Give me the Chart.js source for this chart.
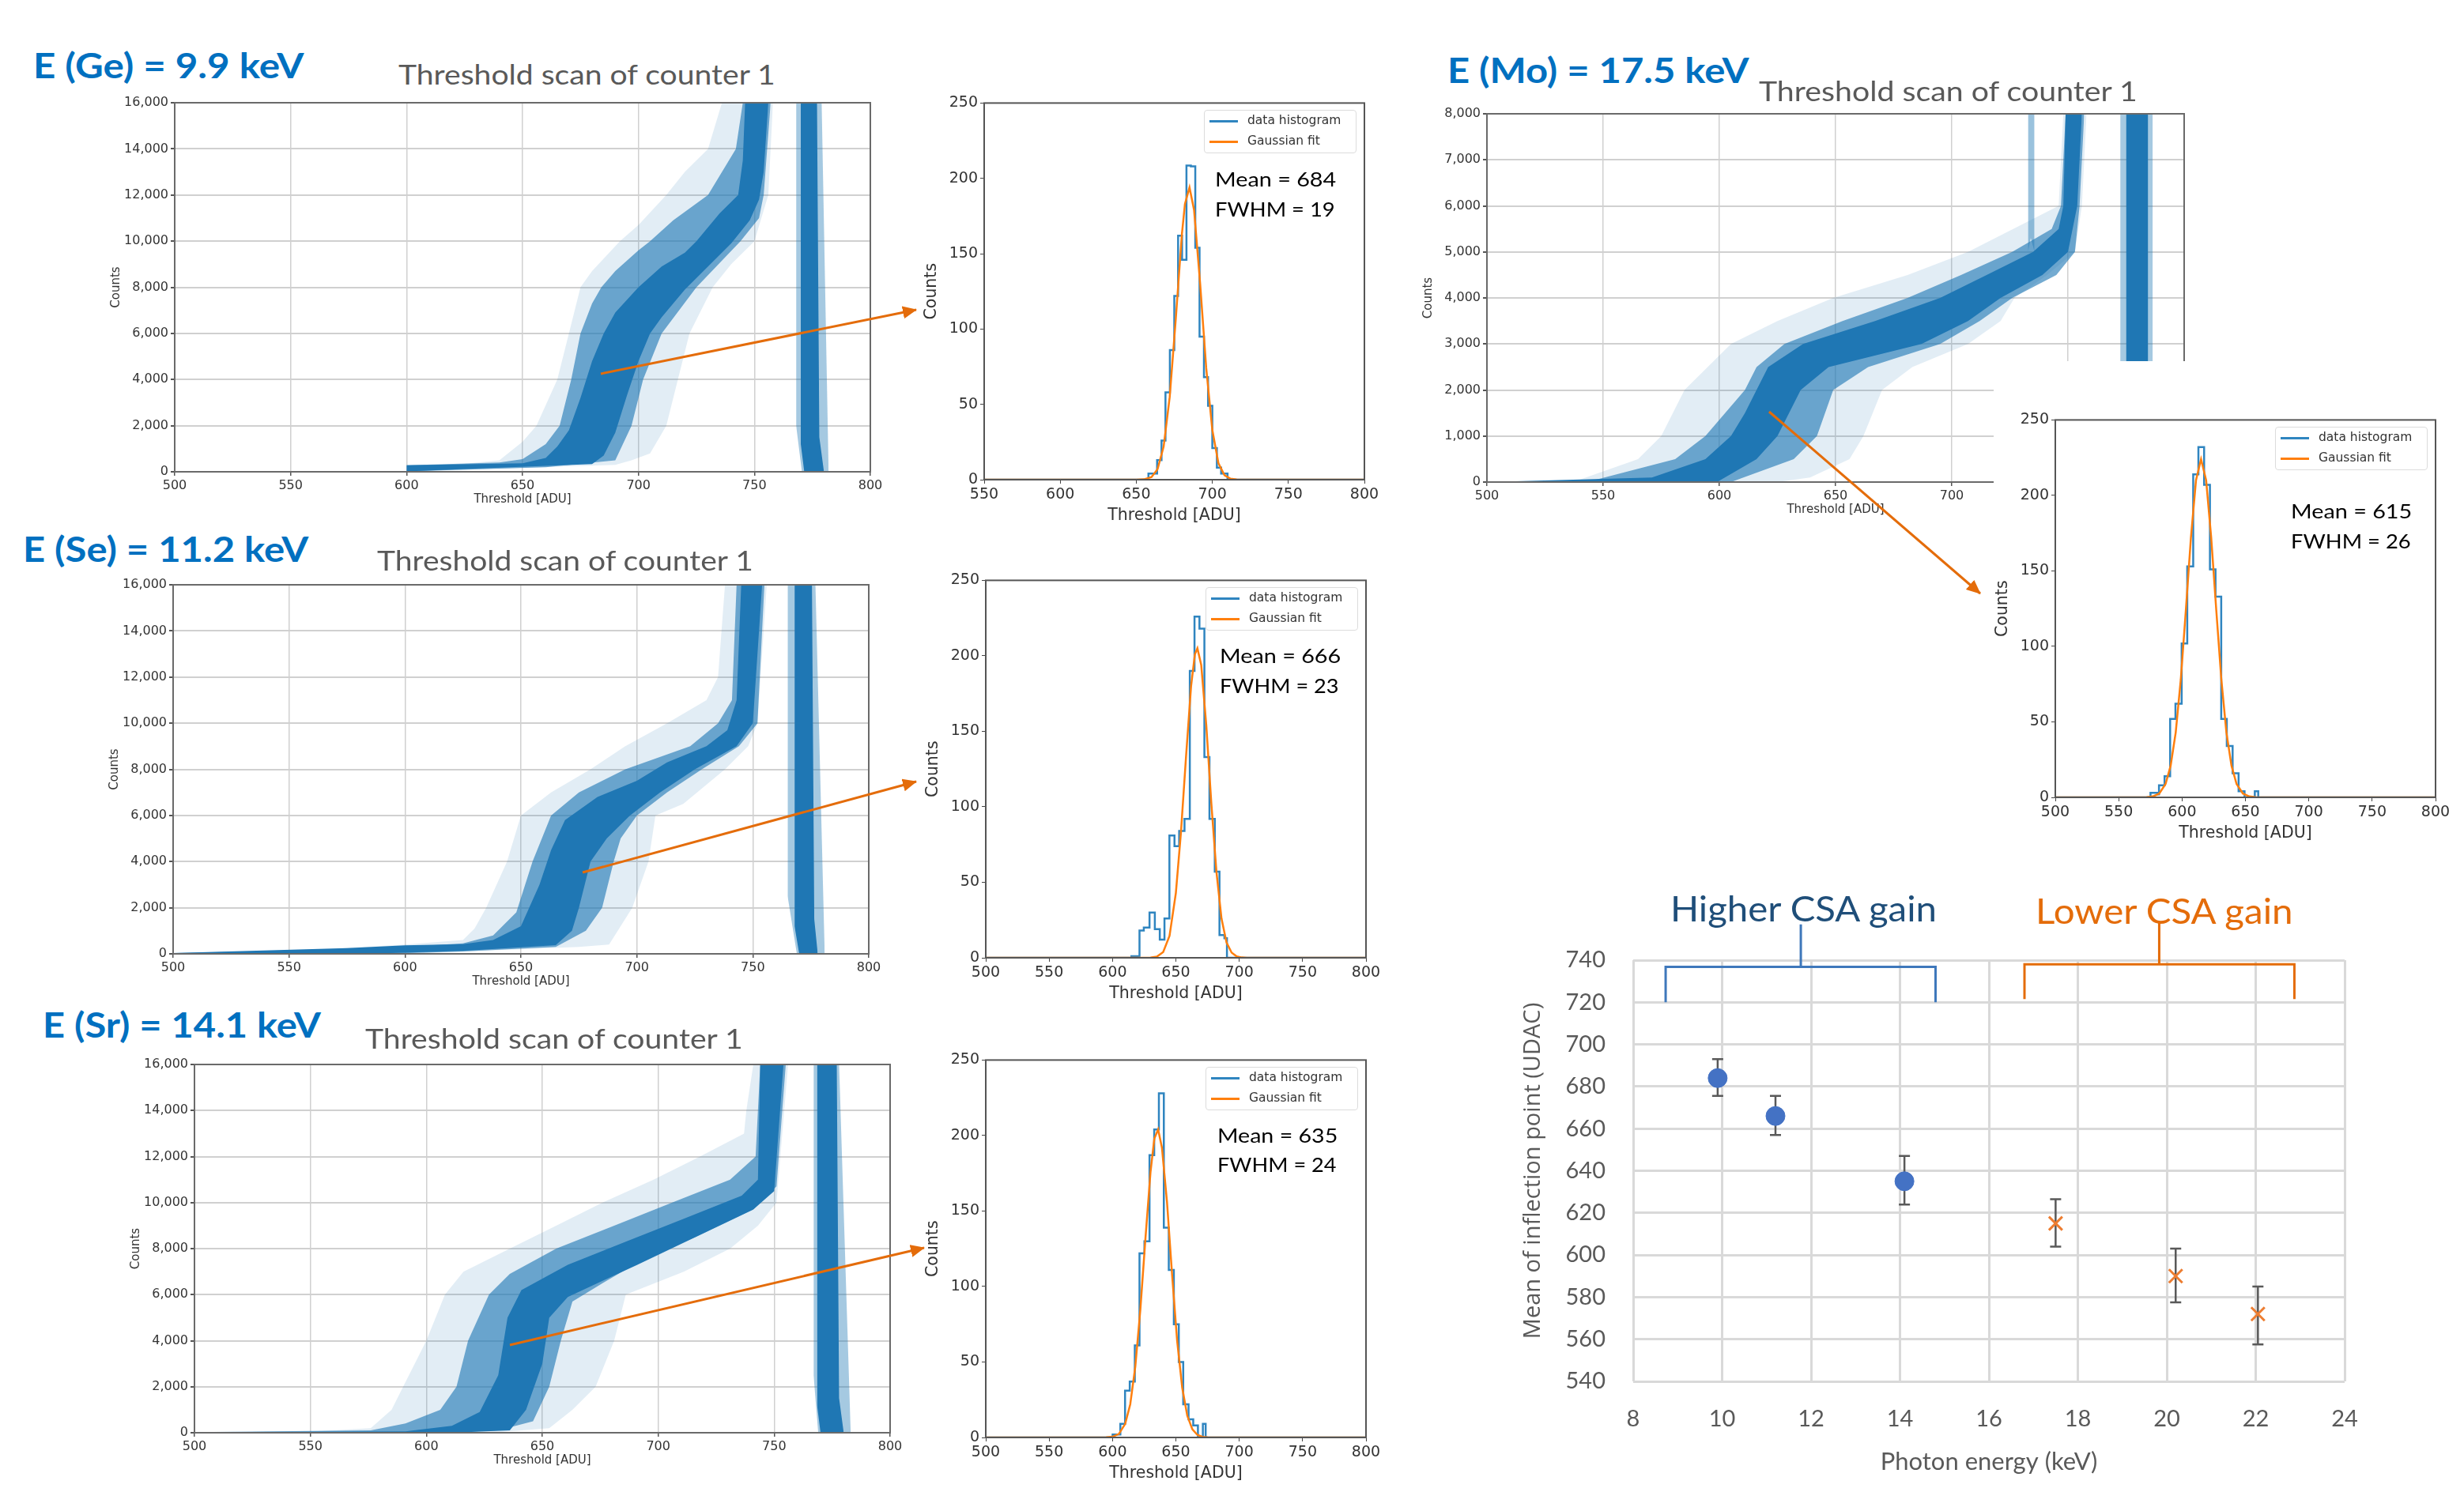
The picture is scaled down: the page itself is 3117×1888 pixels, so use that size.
<!DOCTYPE html>
<html>
<head>
<meta charset="utf-8">
<title>Threshold scans</title>
<script src="https://cdn.jsdelivr.net/npm/chart.js@4"></script>
<style>
  body { margin: 0; background: #fff; width: 3117px; height: 1888px; overflow: hidden; position: relative; }
  canvas { position: absolute; }
  .txt { position: absolute; white-space: nowrap; transform-origin: left center; }
  .legend { position: absolute; border: 1.5px solid #dcdcdc; border-radius: 4px; background: rgba(255,255,255,.85);
            box-sizing: border-box; font: 15.5px "DejaVu Sans"; color: #333; }
  .legend i { position: absolute; left: 6px; width: 36px; height: 2.5px; }
  .legend span { position: absolute; left: 54px; white-space: nowrap; }
  #cover { position: absolute; left: 2522px; top: 457px; width: 595px; height: 260px; background: #fff; }
  svg { position: absolute; left: 0; top: 0; }
</style>
</head>
<body>
<script>
// threshold scans: envelopes of the trace bundle as [threshold, counts]
const geCoreUp = [[600,280],[650,370],[660,600],[665,1100],[670,1800],[675,3200],[680,4800],[685,6000],[690,6900],[700,8000],[710,8900],[720,9500],[725,10000],[735,11200],[743,12000],[745,13500],[746,16000],[756,16000]];
const geCoreLow = [[600,20],[640,180],[680,330],[685,700],[690,1700],[695,3300],[700,4800],[705,6000],[710,6700],[720,7900],[730,8900],[740,9900],[748,10900],[752,11800],[754,13000],[756,16000]];
const geHaloUp = [[600,280],[640,400],[650,550],[660,1200],[666,2000],[671,4000],[675,6000],[680,7300],[684,8000],[690,8700],[700,9600],[705,10000],[715,10900],[730,12000],[742,14000],[745,16000],[757,16000]];
const geHaloLow = [[600,20],[660,200],[690,500],[697,2000],[702,4000],[710,6000],[725,8000],[744,10000],[752,11000],[754,12000],[757,16000]];
const geHazeUp = [[600,280],[620,300],[640,500],[650,1300],[656,2000],[665,4000],[670,6000],[675,8000],[680,8700],[692,10000],[700,10700],[712,12000],[720,13000],[730,14000],[736,16000],[758,16000]];
const geHazeLow = [[600,20],[690,300],[697,500],[705,800],[712,2000],[717,4000],[722,6000],[732,8000],[740,9000],[750,10000],[756,12000],[758,16000]];
const geStripeCoreUp = [[770,16000],[777,16000],[778,1500],[780,0]];
const geStripeCoreLow = [[770,1200],[771.5,0],[780,0]];
const geStripeHaloUp = [[768,16000],[779,16000],[782,0]];
const geStripeHaloLow = [[768,2000],[770.5,0],[782,0]];

const seCoreUp = [[500,30],[575,250],[600,370],[625,420],[638,600],[650,1200],[658,3000],[663,4500],[669,5800],[683,6800],[700,7500],[713,8300],[730,9000],[739,9700],[743,11000],[745,16000],[754,16000]];
const seCoreLow = [[500,0],[588,20],[625,130],[650,280],[665,380],[672,1000],[675,2000],[680,4000],[687,5000],[697,6000],[710,7000],[725,8000],[743,9000],[750,10000],[754,16000]];
const seHaloUp = [[500,30],[560,150],[600,300],[625,450],[638,800],[648,1800],[655,4000],[663,6000],[675,7000],[695,8000],[723,9000],[735,10000],[741,11000],[743,16000],[755,16000]];
const seHaloLow = [[500,0],[590,0],[625,100],[665,300],[678,1000],[685,2000],[690,4000],[693,5000],[700,6000],[713,7000],[728,8000],[744,9000],[752,10000],[755,16000]];
const seHazeUp = [[500,30],[550,100],[600,400],[625,600],[630,1100],[635,2000],[644,4000],[650,6000],[663,7000],[680,8000],[695,9000],[713,10000],[730,11000],[735,12000],[738,16000],[756,16000]];
const seHazeLow = [[500,0],[600,0],[675,300],[688,400],[698,2000],[705,4000],[708,6000],[720,6500],[738,8000],[748,9000],[752,10000],[756,16000]];
const seStripeCoreUp = [[768,16000],[775.5,16000],[776.5,1500],[778,0]];
const seStripeCoreLow = [[768,1200],[770,0],[778,0]];
const seStripeHaloUp = [[765,16000],[777,16000],[781,0]];
const seStripeHaloLow = [[765,2500],[769,0],[781,0]];

const srCoreUp = [[500,30],[591,60],[611,300],[623,900],[631,2500],[635,5000],[641,6200],[661,7300],[686,8300],[711,9300],[736,10300],[743,11000],[744,16000],[754,16000]];
const srCoreLow = [[500,0],[611,0],[636,100],[643,1000],[650,3000],[653,5000],[661,5900],[676,6600],[691,7300],[716,8500],[741,9700],[750,10500],[754,16000]];
const srHaloUp = [[500,30],[576,100],[591,400],[606,1000],[613,2000],[618,4000],[627,6000],[636,6900],[656,8000],[681,9000],[706,10000],[731,11000],[742,12000],[744,16000],[755,16000]];
const srHaloLow = [[500,0],[606,0],[631,100],[646,500],[653,2000],[658,4000],[663,5700],[676,6500],[693,7500],[716,8500],[741,9700],[751,10700],[755,16000]];
const srHazeUp = [[500,30],[550,50],[576,200],[585,1000],[590,2000],[600,4000],[608,6000],[616,7000],[636,8000],[656,9000],[676,10000],[698,11000],[718,12000],[737,13000],[738,14000],[741,16000],[756,16000]];
const srHazeLow = [[500,0],[628,0],[653,200],[663,1000],[673,2000],[681,4000],[686,6000],[711,7000],[731,8000],[743,9000],[751,10000],[756,16000]];
const srStripeCoreUp = [[768.5,16000],[777,16000],[778,1500],[780,0]];
const srStripeCoreLow = [[768.5,1200],[770,0],[780,0]];
const srStripeHaloUp = [[767,16000],[778,16000],[783,0]];
const srStripeHaloLow = [[767,2500],[769,0],[783,0]];

const moCoreUp = [[500,0],[571,100],[594,500],[605,1000],[611,1500],[616,2000],[621,2500],[636,3000],[667,3500],[695,4000],[715,4500],[735,5000],[746,5500],[748,6000],[749,8000],[756,8000]];
const moCoreLow = [[500,0],[599,0],[616,500],[625,1000],[635,2000],[647,2500],[687,3000],[707,3500],[721,4000],[739,4500],[750,5000],[754,6000],[756,8000]];
const moHaloUp = [[500,0],[543,0],[581,500],[594,1000],[611,2000],[616,2500],[628,3000],[653,3500],[681,4000],[704,4500],[726,5000],[743,5500],[747,6000],[749,8000],[757,8000]];
const moHaloLow = [[500,0],[605,0],[632,500],[642,1000],[649,2000],[664,2500],[695,3000],[712,3500],[726,4000],[745,4500],[753,5000],[755,6000],[757,8000]];
const moHazeUp = [[500,0],[537,0],[565,500],[575,1000],[585,2000],[605,3000],[625,3500],[649,4000],[681,4500],[707,5000],[746,6000],[748,8000],[758,8000]];
const moHazeLow = [[500,0],[625,0],[639,100],[656,500],[662,1000],[670,2000],[683,2500],[707,3000],[721,3500],[727,4000],[741,4500],[753,5000],[756,6000],[758,8000]];
const moStripeCoreUp = [[775,8000],[784.5,8000]];
const moStripeCoreLow = [[775,2000],[784.5,2000]];
const moStripeHaloUp = [[772.5,8000],[786.5,8000]];
const moStripeHaloLow = [[772.5,2000],[786.5,2000]];
const moSpikeUp = [[732.8,8000],[735.6,8000]];
const moSpikeLow = [[732.8,5000],[734,5300],[735.6,5000]];

// histograms: left edge of each bin and its count
const geHistEdges = [550,658,663.7,666.6,669.2,672.1,675,677.5,680.1,683,685.9,688.8,691.6,694.5,697.2,700,703,705.8,710,800];
const geHistCounts = [0,4,13,26,58,86,122,162,146,208.5,208,154,95,68,49,21,8,4,0,0];
const geFitX = [550,650,655,660,664,668,672,676,680,682,685,688,692,696,700,704,708,712,716,720,800];
const geFitY = [0,0,0.2,1.7,7,22,55,107,163,183,194,179,130,74,33,11,3,0.6,0.1,0,0];

const seHistEdges = [500,614.9,621.3,624.7,629.2,633.4,637.3,641,644.9,648.9,652.6,656.8,661,664.7,668.6,672.5,676.5,680.7,684.4,688.3,690.3,800];
const seHistCounts = [0,1,18,20,30,19,12,26,81,74,84,92,190,226,218,133,92,57,15,13,0,0];
const seFitX = [500,625,630,635,640,645,650,654,658,662,665,667,670,674,678,682,686,690,694,698,702,706,800];
const seFitY = [0,0,0.1,0.8,3.8,14.6,43,83,133,180,201,205,194,154,102,57,26,10,3.4,0.9,0.2,0,0];

const srHistEdges = [500,600.1,606.2,609.9,613.6,617.6,621.3,625.2,629.2,632.9,636.6,640.5,644.4,648.4,652.3,655.8,660,663.7,667.4,671.3,673.5,800];
const srHistCounts = [0,2,9,31,37,61,122,130,187,204,228,139,111,75,50,22,12,8,0,9,0,0];
const srFitX = [500,590,595,600,605,610,614,618,622,626,630,633,636,639,643,647,651,655,659,663,667,671,675,680,800];
const srFitY = [0,0,0.1,0.5,2.3,9,22,47,85,132,176,198,204,192,156,108,64,33,14.4,5.4,1.7,0.4,0.1,0,0];

const moHistEdges = [500,575.1,580.5,581.8,586.2,590.6,594.8,599.7,604.1,608.8,612.9,617.4,622,626.4,630.9,635.3,639.9,644.6,649.3,657.4,660.1,800];
const moHistCounts = [0,3,2,8,14,52,62,102,153,214,232,207,151,133,52,34,16,4,0,4,0,0];
const moFitX = [500,568,572,577,582,587,591,595,599,603,607,611,615,619,623,627,631,635,639,643,648,653,658,662,800];
const moFitY = [0,0,0.1,0.6,2.5,8.9,21,43,78,124,172,210,224,210,172,124,78,43,21,8.9,2.5,0.6,0.1,0,0];

// inflection point summary
const higherEnergy = [9.9, 11.2, 14.1];
const higherMean = [684, 666, 635];
const higherErrLow = [675.6, 657, 624];
const higherErrHigh = [693, 675.6, 647];
const lowerEnergy = [17.5, 20.2, 22.05];
const lowerMean = [615, 590, 572];
const lowerErrLow = [604, 577.5, 557.5];
const lowerErrHigh = [626.5, 603, 585];
const higherBracket = [[8.73,720],[8.73,736.8],[11.77,736.8],[11.77,757],[11.77,736.8],[14.8,736.8],[14.8,720]];
const lowerBracket = [[16.8,721.5],[16.8,738],[19.83,738],[19.83,758],[19.83,738],[22.87,738],[22.87,721.5]];

const blue = "#1f77b4";
const orange = "#ff7f0e";
const arrowOrange = "#e46c0a";
const titleGrey = "#595959";

Chart.defaults.font.family = '"DejaVu Sans"';
Chart.defaults.animation = false;
Chart.defaults.responsive = false;
Chart.defaults.devicePixelRatio = 1;
Chart.defaults.plugins.legend.display = false;
Chart.defaults.plugins.tooltip.enabled = false;

const framePlugin = {
  id: "frame",
  afterDatasetsDraw(chart, args, opts) {
    const a = chart.chartArea, c = chart.ctx;
    c.save();
    c.strokeStyle = opts.color;
    c.lineWidth = opts.width;
    c.strokeRect(a.left, a.top, a.right - a.left, a.bottom - a.top);
    c.restore();
  },
};

const errorBarPlugin = {
  id: "errorBars",
  beforeDatasetsDraw(chart, args, opts) {
    const c = chart.ctx, xs = chart.scales.x, ys = chart.scales.y;
    c.save();
    c.strokeStyle = "#595959";
    c.lineWidth = 2.5;
    opts.groups.forEach((g) => {
      g.x.forEach((x, i) => {
        const px = xs.getPixelForValue(x);
        const lo = ys.getPixelForValue(g.low[i]);
        const hi = ys.getPixelForValue(g.high[i]);
        c.beginPath();
        c.moveTo(px, lo); c.lineTo(px, hi);
        c.moveTo(px - 7, lo); c.lineTo(px + 7, lo);
        c.moveTo(px - 7, hi); c.lineTo(px + 7, hi);
        c.stroke();
      });
    });
    c.restore();
  },
};

// put a canvas so the plot area lands exactly on box [left, top, right, bottom]
function addChart(box, m, config) {
  const cv = document.createElement("canvas");
  cv.width = box[2] - box[0] + m.left + m.right;
  cv.height = box[3] - box[1] + m.top + m.bottom;
  cv.style.left = (box[0] - m.left) + "px";
  cv.style.top = (box[1] - m.top) + "px";
  document.body.appendChild(cv);
  config.options.layout = { padding: { top: m.top, right: m.right, left: 0, bottom: 0 } };
  config.options.scales.x.afterFit = (s) => { s.height = m.bottom; };
  config.options.scales.y.afterFit = (s) => { s.width = m.left; };
  return new Chart(cv.getContext("2d"), config);
}

function addText(text, left, right, cy, font, color) {
  const d = document.createElement("div");
  d.className = "txt";
  d.textContent = text;
  d.style.font = font;
  d.style.color = color;
  d.style.left = left + "px";
  document.body.appendChild(d);
  d.style.top = (cy - d.offsetHeight / 2) + "px";
  d.style.transform = "scaleX(" + (right - left) / d.offsetWidth + ")";
}

function band(up, low, color) {
  return [
    { data: up, fill: "+1", backgroundColor: color, borderWidth: 0, pointRadius: 0 },
    { data: low, fill: false, borderWidth: 0, pointRadius: 0 },
  ];
}

function toXY(xs, ys) {
  return xs.map((x, i) => ({ x: x, y: ys[i] }));
}

function scanChart(box, ymax, ystep, sets, extra) {
  const datasets = [].concat(
    band(sets[0], sets[1], blue),
    band(sets[2], sets[3], "rgba(31,119,180,.62)"),
    band(sets[4], sets[5], "rgba(31,119,180,.13)"),
    band(sets[6], sets[7], blue),
    band(sets[8], sets[9], "rgba(31,119,180,.4)"),
    extra || []
  );
  return addChart(box, { left: 83, right: 30, top: 14, bottom: 44 }, {
    type: "line",
    data: { datasets: datasets },
    options: {
      scales: {
        x: {
          type: "linear", min: 500, max: 800,
          ticks: { stepSize: 50, color: "#333", font: { size: 16 }, padding: 3, maxRotation: 0 },
          grid: { color: "#d0d0d0", lineWidth: 1.5, tickLength: 5, tickColor: "#555" },
          border: { display: false },
          title: { display: true, text: "Threshold [ADU]", color: "#333", font: { size: 15 }, padding: 0 },
        },
        y: {
          min: 0, max: ymax,
          ticks: { stepSize: ystep, color: "#333", font: { size: 16 }, padding: 3 },
          grid: { color: "#d0d0d0", lineWidth: 2, tickLength: 5, tickColor: "#555" },
          border: { display: false },
          title: { display: true, text: "Counts", color: "#333", font: { size: 15 }, padding: 0 },
        },
      },
      plugins: { frame: { color: "#6a6a6a", width: 2 } },
    },
    plugins: [framePlugin],
  });
}

function histChart(box, xmin, edges, counts, fitX, fitY) {
  const chart = addChart(box, { left: 79, right: 30, top: 14, bottom: 58 }, {
    type: "line",
    data: {
      datasets: [
        { label: "Gaussian fit", data: toXY(fitX, fitY), borderColor: orange, borderWidth: 2.5, pointRadius: 0 },
        { label: "data histogram", data: toXY(edges, counts), borderColor: "#2f85c0", borderWidth: 2.5, pointRadius: 0, stepped: "before" },
      ],
    },
    options: {
      scales: {
        x: {
          type: "linear", min: xmin, max: 800,
          ticks: { stepSize: 50, color: "#333", font: { size: 19 }, padding: 3, maxRotation: 0 },
          grid: { drawOnChartArea: false, tickLength: 5, tickColor: "#444" },
          border: { display: false },
          title: { display: true, text: "Threshold [ADU]", color: "#333", font: { size: 20.5 }, padding: 0 },
        },
        y: {
          min: 0, max: 250,
          ticks: { stepSize: 50, color: "#333", font: { size: 19 }, padding: 3 },
          grid: { drawOnChartArea: false, tickLength: 5, tickColor: "#444" },
          border: { display: false },
          title: { display: true, text: "Counts", color: "#333", font: { size: 20.5 }, padding: 0 },
        },
      },
      plugins: { frame: { color: "#555", width: 2 } },
    },
    plugins: [framePlugin],
  });
  // legend box sits in the top right of the axes
  const lg = document.createElement("div");
  lg.className = "legend";
  lg.style.left = (box[2] - 203) + "px";
  lg.style.top = (box[1] + 9) + "px";
  lg.style.width = "193px";
  lg.style.height = "55px";
  lg.innerHTML =
    '<i style="top:12px;background:#2f85c0"></i><span style="top:3px">data histogram</span>' +
    '<i style="top:38px;background:#ff7f0e"></i><span style="top:29px">Gaussian fit</span>';
  document.body.appendChild(lg);
  return chart;
}

const headFont = 'bold 44px Lato';
const titleFont = '35px Lato';
const noteFont = '25px Lato';
const headBlue = "#0070c0";

scanChart([221, 130, 1101, 597], 16000, 2000,
  [geCoreUp, geCoreLow, geHaloUp, geHaloLow, geHazeUp, geHazeLow, geStripeCoreUp, geStripeCoreLow, geStripeHaloUp, geStripeHaloLow]);
scanChart([219, 740, 1099, 1207], 16000, 2000,
  [seCoreUp, seCoreLow, seHaloUp, seHaloLow, seHazeUp, seHazeLow, seStripeCoreUp, seStripeCoreLow, seStripeHaloUp, seStripeHaloLow]);
scanChart([246, 1347, 1126, 1813], 16000, 2000,
  [srCoreUp, srCoreLow, srHaloUp, srHaloLow, srHazeUp, srHazeLow, srStripeCoreUp, srStripeCoreLow, srStripeHaloUp, srStripeHaloLow]);
scanChart([1881, 144, 2763, 610], 8000, 1000,
  [moCoreUp, moCoreLow, moHaloUp, moHaloLow, moHazeUp, moHazeLow, moStripeCoreUp, moStripeCoreLow, moStripeHaloUp, moStripeHaloLow],
  band(moSpikeUp, moSpikeLow, "rgba(31,119,180,.45)"));

// the Mo inset was pasted over the lower right of its scan
const cover = document.createElement("div");
cover.id = "cover";
document.body.appendChild(cover);

histChart([1245, 130, 1726, 607], 550, geHistEdges, geHistCounts, geFitX, geFitY);
histChart([1247, 734, 1728, 1212], 500, seHistEdges, seHistCounts, seFitX, seFitY);
histChart([1247, 1341, 1728, 1819], 500, srHistEdges, srHistCounts, srFitX, srFitY);
histChart([2600, 531, 3081, 1009], 500, moHistEdges, moHistCounts, moFitX, moFitY);

addChart([2066, 1215, 2966, 1748], { left: 144, right: 60, top: 130, bottom: 121 }, {
  type: "line",
  data: {
    datasets: [
      { data: toXY(higherEnergy, higherMean), showLine: false, pointStyle: "circle", pointRadius: 12, backgroundColor: "#4472c4", borderColor: "#4472c4" },
      { data: toXY(lowerEnergy, lowerMean), showLine: false, pointStyle: "crossRot", pointRadius: 12, borderWidth: 3, borderColor: "#ed7d31", backgroundColor: "#ed7d31" },
      { data: higherBracket, borderColor: "#3f78bb", borderWidth: 3, pointRadius: 0, clip: false },
      { data: lowerBracket, borderColor: arrowOrange, borderWidth: 3, pointRadius: 0, clip: false },
    ],
  },
  options: {
    scales: {
      x: {
        type: "linear", min: 8, max: 24,
        ticks: { stepSize: 2, color: titleGrey, font: { family: "Lato", size: 29 }, padding: 30, maxRotation: 0 },
        grid: { color: "#d9d9d9", lineWidth: 3, drawTicks: false },
        border: { display: false },
        title: { display: true, text: "Photon energy (keV)", color: titleGrey, font: { family: "Lato", size: 31 }, padding: 0 },
      },
      y: {
        min: 540, max: 740,
        ticks: { stepSize: 20, color: titleGrey, font: { family: "Lato", size: 29 }, padding: 35 },
        grid: { color: "#d9d9d9", lineWidth: 3, drawTicks: false },
        border: { display: false },
        title: { display: true, text: "Mean of inflection point (UDAC)", color: titleGrey, font: { family: "Open Sans", size: 29 }, padding: 0 },
      },
    },
    plugins: {
      errorBars: {
        groups: [
          { x: higherEnergy, low: higherErrLow, high: higherErrHigh },
          { x: lowerEnergy, low: lowerErrLow, high: lowerErrHigh },
        ],
      },
    },
  },
  plugins: [errorBarPlugin],
});

addText("E (Ge) = 9.9 keV", 42, 385, 82, headFont, headBlue);
addText("Threshold scan of counter 1", 504, 981, 93, titleFont, titleGrey);
addText("E (Se) = 11.2 keV", 29, 390, 694, headFont, headBlue);
addText("Threshold scan of counter 1", 477, 953, 708, titleFont, titleGrey);
addText("E (Sr) = 14.1 keV", 54, 406, 1296, headFont, headBlue);
addText("Threshold scan of counter 1", 462, 940, 1313, titleFont, titleGrey);
addText("E (Mo) = 17.5 keV", 1831, 2213, 88, headFont, headBlue);
addText("Threshold scan of counter 1", 2225, 2704, 114, titleFont, titleGrey);

addText("Mean = 684", 1537, 1690, 226, noteFont, "#000");
addText("FWHM = 19", 1537, 1689, 264, noteFont, "#000");
addText("Mean = 666", 1543, 1696, 829, noteFont, "#000");
addText("FWHM = 23", 1543, 1694, 867, noteFont, "#000");
addText("Mean = 635", 1540, 1692, 1436, noteFont, "#000");
addText("FWHM = 24", 1540, 1691, 1473, noteFont, "#000");
addText("Mean = 615", 2898, 3051, 646, noteFont, "#000");
addText("FWHM = 26", 2898, 3050, 684, noteFont, "#000");

addText("Higher CSA gain", 2113, 2450, 1149, '44px Lato', "#1f4e79");
addText("Lower CSA gain", 2575, 2901, 1152, '44px Lato', arrowOrange);

// arrows from each scan to its histogram
const arrows = [[760, 473, 1159, 392], [737, 1104, 1159, 989], [645, 1702, 1169, 1579], [2238, 521, 2505, 751]];
const svgNS = "http://www.w3.org/2000/svg";
const svg = document.createElementNS(svgNS, "svg");
svg.setAttribute("width", 3117);
svg.setAttribute("height", 1888);
svg.innerHTML = '<defs><marker id="tip" markerUnits="userSpaceOnUse" markerWidth="18" markerHeight="16" refX="17" refY="8" orient="auto">' +
  '<path d="M0 0 L18 8 L0 16 Z" fill="' + arrowOrange + '"/></marker></defs>' +
  arrows.map((a) => '<line x1="' + a[0] + '" y1="' + a[1] + '" x2="' + a[2] + '" y2="' + a[3] +
    '" stroke="' + arrowOrange + '" stroke-width="3" marker-end="url(#tip)"/>').join("");
document.body.appendChild(svg);
</script>
</body>
</html>
